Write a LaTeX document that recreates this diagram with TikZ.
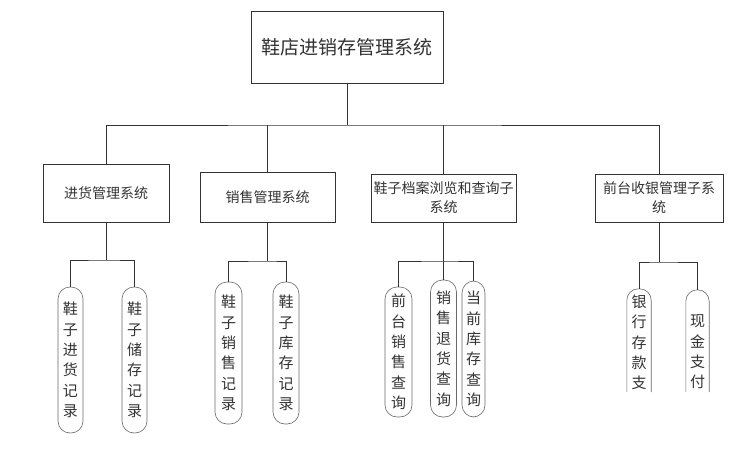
\documentclass[tikz,border=0pt]{standalone}
\usepackage{fontspec}
\setmainfont{Noto Sans CJK SC}
\definecolor{ln}{HTML}{333333}
\definecolor{capc}{HTML}{6A6A6A}
\begin{document}
\begin{tikzpicture}[x=1pt,y=-1pt,
  box/.style={draw=ln, line width=0.9pt, align=center, inner sep=2pt, text=ln},
  conn/.style={draw=ln, line width=0.9pt},
  capsule/.style={draw=capc, line width=0.6pt, rounded corners=12pt, align=center, inner sep=0pt, text=ln,
    font=\fontsize{15pt}{20.4pt}\selectfont},
  capframe/.style={draw=none, inner sep=0pt},
  captext/.style={align=center, inner sep=0pt, text=ln, font=\fontsize{15pt}{20.4pt}\selectfont},
  openshape/.style={draw=capc, line width=0.6pt, rounded corners=11.5pt}]
\fill[white] (0,0) rectangle (740,455);
\useasboundingbox (0,0) rectangle (740,455);

% level 0
\node[box, minimum width=192pt, minimum height=72pt, font=\fontsize{19pt}{23pt}\selectfont] (top) at (347,47) {鞋店进销存管理系统};

% level 1
\node[box, minimum width=126pt, minimum height=58pt, font=\fontsize{14pt}{19pt}\selectfont] (b1) at (106,193) {进货管理系统};
\node[box, minimum width=135pt, minimum height=50pt, font=\fontsize{14pt}{19pt}\selectfont] (b2) at (267.5,197) {销售管理系统};
\node[box, minimum width=145pt, minimum height=48pt, font=\fontsize{14pt}{19pt}\selectfont] (b3) at (443.5,198) {鞋子档案浏览和查询子\\系统};
\node[box, minimum width=128pt, minimum height=48pt, font=\fontsize{14pt}{19pt}\selectfont] (b4) at (659,198) {前台收银管理子系\\统};

% level 2
\node[capsule, minimum width=25pt, minimum height=146pt] (g1a) at (70.5,360) {鞋\\子\\进\\货\\记\\录};
\node[capsule, minimum width=25pt, minimum height=146pt] (g1b) at (134.5,360) {鞋\\子\\储\\存\\记\\录};
\node[capsule, minimum width=27pt, minimum height=142pt] (g2a) at (228.5,353) {鞋\\子\\销\\售\\记\\录};
\node[capsule, minimum width=26pt, minimum height=142pt] (g2b) at (286,353) {鞋\\子\\库\\存\\记\\录};
\node[capsule, minimum width=27pt, minimum height=130pt] (g3a) at (398.5,352) {前\\台\\销\\售\\查\\询};
\node[capsule, minimum width=26pt, minimum height=137pt] (g3b) at (443.5,348.5) {销\\售\\退\\货\\查\\询};
\node[capsule, minimum width=23pt, minimum height=136pt] (g3c) at (473.5,349) {当\\前\\库\\存\\查\\询};

\node[capframe, minimum width=24pt, minimum height=103pt] (g4a) at (639,340.5) {};
\node[capframe, minimum width=23pt, minimum height=102pt] (g4b) at (697.5,341) {};
\draw[openshape] (g4a.south west) -- (g4a.north west) -- (g4a.north east) -- (g4a.south east);
\draw[openshape] (g4b.south west) -- (g4b.north west) -- (g4b.north east) -- (g4b.south east);
\node[captext] (g4at) at (639,342.5) {银\\行\\存\\款\\支};
\node[captext] (g4bt) at (697.5,352) {现\\金\\支\\付};

% connectors level 0 -> 1
\coordinate (t) at (347,125);
\draw[conn] (top.south) -- (t);
\draw[conn] (b1.north) |- (t) -| (b4.north);
\draw[conn] (t -| b2.north) -- (b2.north);
\draw[conn] (t -| b3.north) -- (b3.north);

% connectors level 1 -> 2
\coordinate (s1) at (106,260);
\draw[conn] (b1.south) -- (s1);
\draw[conn] (g1a.north) |- (s1) -| (g1b.north);

\coordinate (s2) at (267.5,261);
\draw[conn] (b2.south) -- (s2);
\draw[conn] (g2a.north) |- (s2) -| (g2b.north);

\coordinate (s3) at (443.5,261);
\draw[conn] (b3.south) -- (s3);
\draw[conn] (g3a.north) |- (s3) -| (g3c.north);
\draw[conn] (s3) -- (g3b.north);

\coordinate (s4) at (659,262);
\draw[conn] (b4.south) -- (s4);
\draw[conn] (g4a.north) |- (s4) -| (g4b.north);
\end{tikzpicture}
\end{document}
